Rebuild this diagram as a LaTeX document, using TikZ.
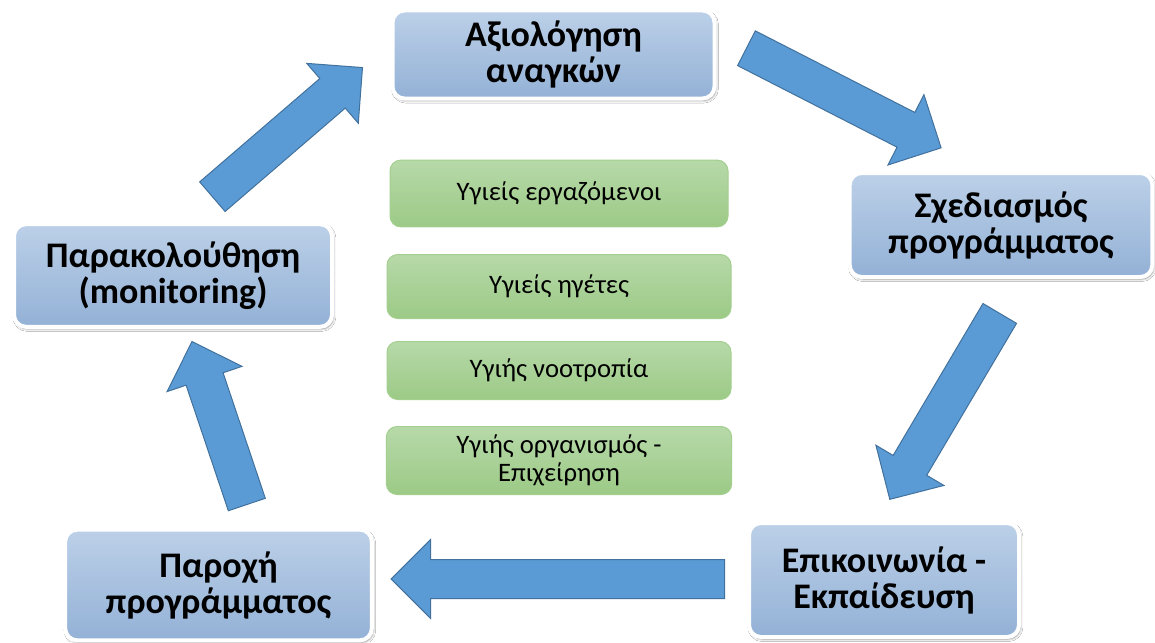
\documentclass[tikz,border=0pt]{standalone}
\usepackage{fontspec}
\setmainfont{Carlito}
\usetikzlibrary{shapes.arrows,positioning,shadows.blur}
\definecolor{boxtop}{HTML}{BCD0E8}
\definecolor{boxbot}{HTML}{93B1D6}
\definecolor{greentop}{HTML}{B7D9A9}
\definecolor{greenbot}{HTML}{9CCA86}
\definecolor{greenline}{HTML}{A3CF8F}
\definecolor{arrowblue}{HTML}{5B9BD5}
\definecolor{arrowline}{HTML}{41719C}

\begin{document}
\begin{tikzpicture}[
    x=0.75pt, y=-0.75pt,
    every text node part/.style={align=center},
    stage/.style={draw=white, line width=3pt, rounded corners=9pt, top color=boxtop, bottom color=boxbot, inner sep=0pt, font=\bfseries\fontsize{27}{27}\selectfont, blur shadow={shadow xshift=1pt, shadow yshift=-1.5pt, shadow blur steps=6, shadow opacity=45}},
    pillar/.style={draw=greenline, line width=0.75pt, rounded corners=8pt, top color=greentop, bottom color=greenbot, inner sep=0pt, font=\fontsize{20}{21}\selectfont},
    blockarrow/.style={single arrow, draw=arrowline, fill=arrowblue, line width=0.75pt, inner xsep=0pt, inner ysep=14.25pt, single arrow head extend=15pt, anchor=tail}
]
\useasboundingbox[fill=white] (0,0) rectangle (1155,642);

% Cycle stages
\node (eval) [stage, minimum width=241.5pt, minimum height=66pt] at (553.5,54.5) {Αξιολόγηση\\αναγκών};
\node (design) [stage, minimum width=227pt, minimum height=78pt] at (1001,225) {Σχεδιασμός\\προγράμματος};
\node (comm) [stage, minimum width=202.5pt, minimum height=85.5pt] at (884,580) {Επικοινωνία -\\Εκπαίδευση};
\node (deliv) [stage, minimum width=230pt, minimum height=83pt] at (218.5,585) {Παροχή\\προγράμματος};
\node (monitor) [stage, minimum width=238.5pt, minimum height=77pt] at (173,275.5) {Παρακολούθηση\\(monitoring)};

% Centre column
\node (g1) [pillar, minimum width=253.5pt, minimum height=50pt] at (559,193.5) {Υγιείς εργαζόμενοι};
\node (g2) [pillar, minimum width=258pt, minimum height=48pt, below=20pt of g1] {Υγιείς ηγέτες};
\node (g3) [pillar, minimum width=258pt, minimum height=43.5pt, below=16.5pt of g2] {Υγιής νοοτροπία};
\node (g4) [pillar, minimum width=259pt, minimum height=51pt, below=19.5pt of g3] {Υγιής οργανισμός -\\Επιχείρηση};

% Block arrows
\node (a1) [blockarrow, minimum height=148.5pt, rotate=40.7] at (212,197) {};
\node (a2) [blockarrow, minimum height=164pt, rotate=-27.1] at (746,48) {};
\node (a3) [blockarrow, minimum height=162pt, rotate=-120.6] at (1000,313) {};
\node (a4) [blockarrow, minimum height=250pt, rotate=180] at (725,579) {};
\node (a5) [blockarrow, minimum height=129pt, rotate=108.6] at (247,505) {};

\end{tikzpicture}
\end{document}
